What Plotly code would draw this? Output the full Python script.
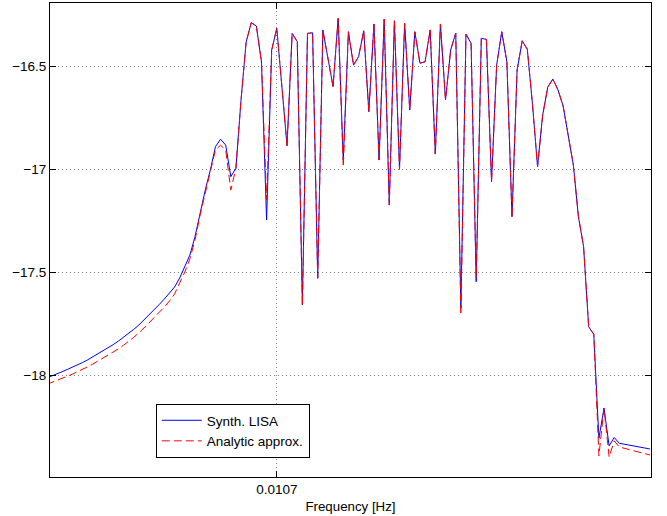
import numpy as np
import plotly.graph_objects as go

# Frequency grid: uniform bins, bin 45 sits at 0.0107 Hz
n_bins = 119
f_step = 2.5e-6
f_start = 0.0107 - 45 * f_step
freq = f_start + f_step * np.arange(n_bins)

# log10 of the spectrum, simulated (Synthetic LISA)
synth_lisa = [
    -18.014, -18.005, -17.995, -17.984, -17.973, -17.963, -17.952, -17.939, -17.926, -17.912,
    -17.898, -17.883, -17.868, -17.852, -17.835, -17.817, -17.798, -17.778, -17.757, -17.733,
    -17.708, -17.681, -17.657, -17.630, -17.603, -17.572, -17.528, -17.474, -17.416, -17.327,
    -17.212, -17.100, -17.002, -16.889, -16.853, -16.881, -17.035, -16.994, -16.662, -16.380,
    -16.286, -16.302, -16.477, -17.246, -16.419, -16.313, -16.599, -16.884, -16.338, -16.378,
    -17.659, -16.338, -16.335, -17.529, -16.321, -16.458, -16.597, -16.265, -16.954, -16.330,
    -16.492, -16.451, -16.325, -16.719, -16.292, -16.954, -16.269, -17.173, -16.276, -16.999,
    -16.289, -16.711, -16.330, -16.483, -16.476, -16.321, -16.925, -16.292, -16.662, -16.419,
    -16.336, -17.674, -16.342, -16.386, -17.546, -16.362, -16.367, -17.059, -16.492, -16.330,
    -16.476, -17.230, -16.516, -16.374, -16.415, -16.681, -16.986, -16.735, -16.599, -16.560,
    -16.613, -16.691, -16.840, -16.978, -17.230, -17.375, -17.765, -17.802, -18.307, -18.161,
    -18.345, -18.304, -18.332, -18.336, -18.341, -18.345, -18.350, -18.355, -18.360,
]

# log10 of the spectrum, analytic approximation
analytic = [
    -18.045, -18.036, -18.026, -18.016, -18.006, -17.996, -17.985, -17.973, -17.960, -17.947,
    -17.933, -17.919, -17.904, -17.889, -17.873, -17.855, -17.837, -17.817, -17.795, -17.772,
    -17.747, -17.720, -17.696, -17.669, -17.640, -17.606, -17.552, -17.499, -17.435, -17.343,
    -17.221, -17.110, -17.012, -16.905, -16.882, -16.905, -17.100, -16.994, -16.662, -16.380,
    -16.286, -16.302, -16.477, -17.148, -16.419, -16.313, -16.599, -16.884, -16.338, -16.378,
    -17.659, -16.338, -16.335, -17.529, -16.321, -16.458, -16.597, -16.265, -16.988, -16.330,
    -16.492, -16.451, -16.325, -16.719, -16.292, -16.954, -16.269, -17.173, -16.276, -16.999,
    -16.289, -16.711, -16.330, -16.483, -16.476, -16.321, -16.925, -16.292, -16.662, -16.419,
    -16.336, -17.708, -16.342, -16.386, -17.528, -16.362, -16.367, -17.059, -16.492, -16.330,
    -16.476, -17.230, -16.516, -16.374, -16.415, -16.681, -16.986, -16.735, -16.599, -16.560,
    -16.613, -16.691, -16.840, -16.978, -17.230, -17.375, -17.765, -17.802, -18.393, -18.161,
    -18.399, -18.320, -18.350, -18.356, -18.362, -18.369, -18.375, -18.381, -18.389,
]

x_ticks = [0.0107]
x_tick_text = ["0.0107"]
y_ticks = [-18, -17.5, -17, -16.5]
y_tick_text = ["\u221218", "\u221217.5", "\u221217", "\u221216.5"]

font_family = "Liberation Sans, Arial, sans-serif"

fig = go.Figure()
fig.add_trace(go.Scatter(
    x=freq, y=synth_lisa, mode="lines", name="Synth. LISA",
    line=dict(color="#0000ff", width=1),
))
fig.add_trace(go.Scatter(
    x=freq, y=analytic, mode="lines", name="Analytic approx.",
    line=dict(color="#ff0000", width=1, dash="8px,4px"),
))

axis_common = dict(
    showline=True, linecolor="black", linewidth=1, mirror="ticks",
    ticks="inside", ticklen=6, tickcolor="black", tickwidth=1,
    showgrid=True, gridcolor="#808080", gridwidth=1, griddash="1px,3px",
    zeroline=False, tickfont=dict(family=font_family, size=13.5, color="black"),
)

fig.update_xaxes(
    range=[f_start + 0.636 * f_step, f_start + 118.19 * f_step],
    tickvals=x_ticks, ticktext=x_tick_text,
    title=dict(text="Frequency [Hz]", font=dict(family=font_family, size=13.3, color="black"),
               standoff=5),
    **axis_common,
)
fig.update_yaxes(
    range=[-18.496, -16.19],
    tickvals=y_ticks, ticktext=y_tick_text,
    **axis_common,
)

fig.update_layout(
    width=667, height=516,
    margin=dict(l=50, r=16, t=3, b=39, autoexpand=False),
    paper_bgcolor="white", plot_bgcolor="white",
    showlegend=True,
    legend=dict(
        x=0.176, y=0.154, xanchor="left", yanchor="top",
        bgcolor="white", bordercolor="black", borderwidth=1,
        font=dict(family=font_family, size=13.5, color="black"),
        tracegroupgap=0, itemwidth=40,
    ),
)

fig.write_html("out.html")
